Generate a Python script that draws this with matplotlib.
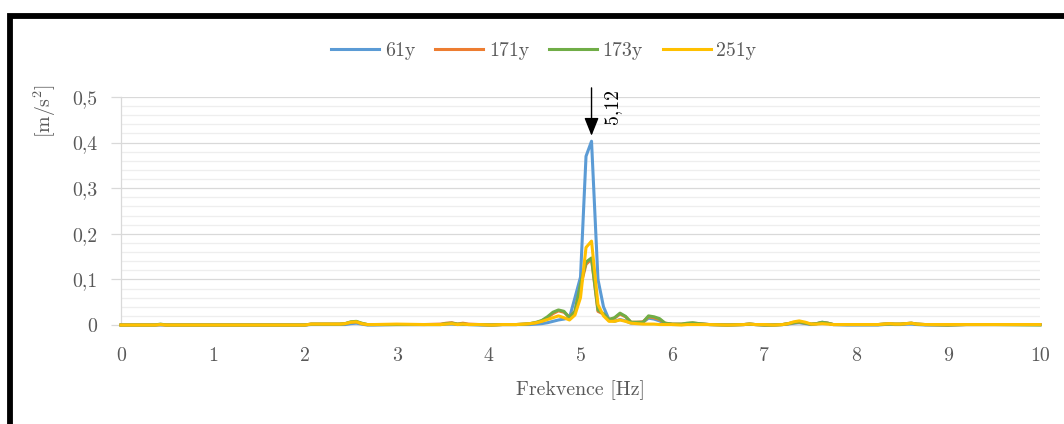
import matplotlib
matplotlib.use("Agg")
import matplotlib.pyplot as plt
from matplotlib.patches import Rectangle
from matplotlib.ticker import FuncFormatter, MultipleLocator

plt.rcParams["font.family"] = ["cmr10", "DejaVu Serif"]
plt.rcParams["mathtext.fontset"] = "cm"
plt.rcParams["axes.formatter.use_mathtext"] = True

# Frequency bins [Hz]
freq = [0.00, 0.37, 0.43, 0.49, 1.00, 2.00, 2.07, 2.38, 2.44, 2.50,
        2.56, 2.62, 2.68, 2.75, 3.00, 3.30, 3.48, 3.54, 3.60, 3.66,
        3.72, 3.78, 3.90, 4.03, 4.15, 4.30, 4.39, 4.45, 4.52, 4.58,
        4.64, 4.70, 4.76, 4.82, 4.88, 4.94, 5.00, 5.06, 5.12, 5.19,
        5.25, 5.31, 5.37, 5.43, 5.49, 5.55, 5.61, 5.68, 5.74, 5.80,
        5.86, 5.92, 6.00, 6.10, 6.16, 6.22, 6.29, 6.40, 6.60, 6.78,
        6.84, 6.90, 7.00, 7.10, 7.20, 7.26, 7.32, 7.38, 7.45, 7.51,
        7.57, 7.63, 7.69, 7.75, 7.90, 8.10, 8.24, 8.30, 8.36, 8.42,
        8.48, 8.54, 8.60, 8.66, 8.75, 9.00, 9.20, 9.50, 10.00]

# Acceleration amplitudes [m/s^2]
acc_61y = [0, 0, 0, 0, 0, 0, 0.001, 0.001, 0.001, 0.003,
           0.004, 0.002, 0.000, 0, 0.001, 0.001, 0.001, 0.002, 0.002, 0.001,
           0.001, 0.001, 0.000, 0.000, 0.001, 0.001, 0.001, 0.001, 0.002, 0.003,
           0.005, 0.008, 0.011, 0.013, 0.016, 0.060, 0.105, 0.370, 0.403, 0.100,
           0.040, 0.012, 0.008, 0.012, 0.009, 0.004, 0.004, 0.006, 0.015, 0.013,
           0.009, 0.003, 0.001, 0.001, 0.002, 0.003, 0.002, 0.001, 0, 0.001,
           0.002, 0.001, 0.000, 0, 0.001, 0.002, 0.004, 0.005, 0.003, 0.001,
           0.003, 0.006, 0.004, 0.001, 0, 0.000, 0.000, 0.001, 0.002, 0.001,
           0.001, 0.002, 0.002, 0.001, 0.000, 0.000, 0.001, 0.001, 0.001]

acc_171y = [0, 0, 0.001, 0, 0, 0, 0.002, 0.002, 0.003, 0.006,
            0.007, 0.003, 0.001, 0.001, 0.001, 0.001, 0.002, 0.004, 0.005, 0.002,
            0.004, 0.002, 0.001, 0.000, 0.001, 0.001, 0.002, 0.003, 0.005, 0.009,
            0.016, 0.025, 0.031, 0.028, 0.017, 0.030, 0.085, 0.133, 0.145, 0.030,
            0.024, 0.012, 0.015, 0.024, 0.018, 0.006, 0.006, 0.007, 0.018, 0.016,
            0.012, 0.004, 0.002, 0.002, 0.003, 0.004, 0.003, 0.001, 0, 0.001,
            0.002, 0.001, 0.000, 0, 0.001, 0.003, 0.005, 0.006, 0.004, 0.002,
            0.003, 0.005, 0.004, 0.001, 0.001, 0.001, 0.001, 0.002, 0.003, 0.002,
            0.002, 0.003, 0.004, 0.002, 0.001, 0.000, 0.001, 0.001, 0.001]

acc_173y = [0, 0, 0.002, 0, 0, 0, 0.002, 0.002, 0.003, 0.007,
            0.008, 0.004, 0.001, 0.001, 0.001, 0.001, 0.001, 0.003, 0.004, 0.002,
            0.002, 0.001, 0.001, 0.000, 0.001, 0.001, 0.002, 0.003, 0.006, 0.010,
            0.018, 0.028, 0.033, 0.030, 0.016, 0.030, 0.090, 0.138, 0.147, 0.033,
            0.025, 0.012, 0.016, 0.026, 0.019, 0.006, 0.006, 0.006, 0.020, 0.018,
            0.014, 0.004, 0.002, 0.002, 0.004, 0.005, 0.003, 0.001, 0, 0.001,
            0.002, 0.001, 0.000, 0, 0.001, 0.003, 0.005, 0.007, 0.004, 0.002,
            0.003, 0.006, 0.004, 0.001, 0.001, 0.001, 0.001, 0.002, 0.002, 0.002,
            0.002, 0.003, 0.004, 0.002, 0.001, 0.000, 0.001, 0.001, 0.000]

acc_251y = [0, 0, 0.001, 0, 0, 0, 0.002, 0.002, 0.003, 0.006,
            0.007, 0.003, 0.001, 0.001, 0.002, 0.001, 0.001, 0.002, 0.003, 0.001,
            0.002, 0.001, 0.001, 0.000, 0.001, 0.001, 0.002, 0.003, 0.005, 0.008,
            0.012, 0.016, 0.020, 0.016, 0.011, 0.022, 0.060, 0.170, 0.184, 0.045,
            0.020, 0.008, 0.008, 0.011, 0.008, 0.004, 0.003, 0.002, 0.002, 0.002,
            0.001, 0.001, 0.001, 0.000, 0.001, 0.001, 0.001, 0.001, 0, 0.001,
            0.002, 0.001, 0.001, 0, 0.001, 0.003, 0.007, 0.009, 0.006, 0.002,
            0.002, 0.003, 0.002, 0.001, 0.001, 0.001, 0.001, 0.002, 0.003, 0.002,
            0.002, 0.003, 0.004, 0.002, 0.001, 0.001, 0.001, 0.001, 0.001]

series_names = ["61y", "171y", "173y", "251y"]
series_colors = ["#5b9bd5", "#ed7d31", "#70ad47", "#ffc000"]
series_values = [acc_61y, acc_171y, acc_173y, acc_251y]

peak_freq = 5.12
peak_value = 0.403

FS = 14.3
W, H = 1064, 424
fig = plt.figure(figsize=(W / 100, H / 100), dpi=100)
fig.patch.set_facecolor("white")

# Outer frame of the chart area
frame = Rectangle((9.5 / W, -0.2), 1.2, 1 - 15.5 / H + 0.2,
                  transform=fig.transFigure, facecolor="none",
                  edgecolor="black", linewidth=4.2, zorder=0)
fig.patches.append(frame)

ax = fig.add_axes([121 / W, 1 - 325 / H, (1040 - 121) / W, (325 - 97) / H])

for name, color, vals in zip(series_names, series_colors, series_values):
    ax.plot(freq, vals, color=color, lw=2.2, label=name, clip_on=False,
            solid_joinstyle="round", zorder=3)

ax.set_xlim(0, 10)
ax.set_ylim(0, 0.5)
ax.xaxis.set_major_locator(MultipleLocator(1))
ax.yaxis.set_major_locator(MultipleLocator(0.1))
ax.yaxis.set_minor_locator(MultipleLocator(0.02))

ax.yaxis.set_major_formatter(FuncFormatter(
    lambda v, p: "0" if abs(v) < 1e-9 else f"{v:.1f}".replace(".", ",")))
ax.xaxis.set_major_formatter(FuncFormatter(lambda v, p: f"{v:.0f}"))

ax.grid(which="major", axis="y", color="#d9d9d9", lw=0.9)
ax.grid(which="minor", axis="y", color="#eeeeee", lw=0.9)
ax.set_axisbelow(True)

for s in ["top", "right"]:
    ax.spines[s].set_visible(False)
ax.spines["left"].set_color("#d9d9d9")
ax.spines["bottom"].set_color("#d9d9d9")
ax.spines["left"].set_linewidth(0.9)
ax.spines["bottom"].set_linewidth(0.9)

ax.tick_params(axis="y", which="major", length=7.2, width=0.9, color="#d9d9d9",
               pad=10, labelsize=FS, labelcolor="#595959")
ax.tick_params(axis="y", which="minor", length=0)
ax.tick_params(axis="x", which="major", length=0, pad=16, labelsize=FS,
               labelcolor="#595959")

ax.set_xlabel("Frekvence [Hz]", fontsize=FS, color="#595959", labelpad=11)
fig.text(45 / W, 1 - 111 / H, r"[m/s$^2$]", rotation=90, ha="center",
         va="center", fontsize=FS, color="#595959")

# Peak marker
ax.annotate("", xy=(peak_freq, peak_value + 0.012),
            xytext=(peak_freq, peak_value + 0.117),
            arrowprops=dict(arrowstyle="-|>,head_width=0.2,head_length=0.5",
                            color="black", lw=1.0,
                            mutation_scale=22, shrinkA=0, shrinkB=0),
            annotation_clip=False)
ax.text(peak_freq + 0.22, peak_value + 0.077, f"{peak_freq:.2f}".replace(".", ","),
        rotation=90, ha="center", va="center", fontsize=FS, color="black",
        clip_on=False)

leg = fig.legend(loc="center", bbox_to_anchor=(544 / W, 1 - 51 / H), ncol=4,
                 frameon=False, fontsize=FS, handlelength=2.4,
                 handletextpad=0.3, columnspacing=1.0)
for t in leg.get_texts():
    t.set_color("#595959")

fig.savefig("out.png", dpi=100, facecolor="white")
